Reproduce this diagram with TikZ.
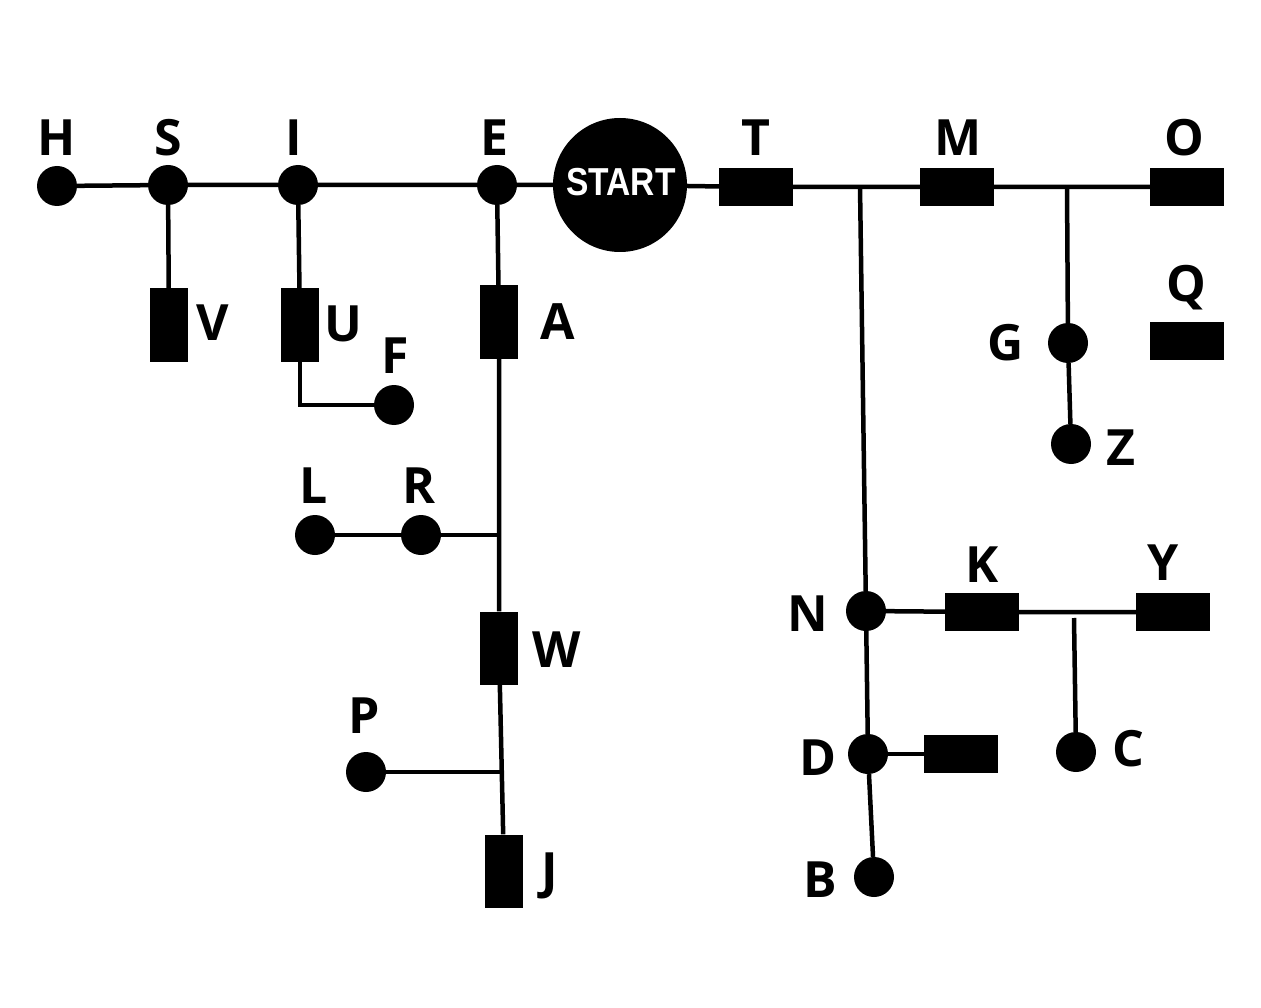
\documentclass[tikz,border=0pt]{standalone}
\usepackage{fontspec}
\setmainfont{Open Sans}
\newfontfamily\startfont{Liberation Sans}
\begin{document}
\begin{tikzpicture}[x=1pt,y=-1pt,
  dot/.style={circle,fill=black,minimum size=40pt,inner sep=0pt},
  hbox/.style={rectangle,fill=black,minimum width=74pt,minimum height=38pt,inner sep=0pt},
  vbox/.style={rectangle,fill=black,minimum width=38pt,minimum height=73pt,inner sep=0pt},
  lab/.style={font=\fontsize{50}{50}\selectfont\bfseries,inner sep=0pt},
  wire/.style={line width=4.5pt}]
\useasboundingbox[fill=white] (0,0) rectangle (1261,1008);
% nodes
\node[dot] (H) at (57,186) {};
\node[dot] (S) at (168,185) {};
\node[dot] (I) at (298,185) {};
\node[dot] (E) at (497,185) {};
\node[circle,fill=black,minimum size=134pt,inner sep=0pt] (START) at (620,185) {};
\node[text=white,inner sep=0pt] (startlab) at (621,182) {\scalebox{0.86}[1]{\startfont\bfseries\fontsize{39}{39}\selectfont START}};
\node[hbox] (T) at (756,187) {};
\node[hbox] (M) at (957,187) {};
\node[hbox] (O) at (1187,187) {};
\node[hbox] (Q) at (1187,341) {};
\node[vbox] (V) at (169,325) {};
\node[vbox] (U) at (300,325) {};
\node[vbox] (A) at (499,322) {};
\node[dot] (F) at (394,405) {};
\node[dot] (L) at (315,535) {};
\node[dot] (R) at (421,535) {};
\node[vbox] (W) at (499,648) {};
\node[dot] (P) at (366,772) {};
\node[vbox] (J) at (504,871) {};
\node[dot] (G) at (1068,343) {};
\node[dot] (Z) at (1071,444) {};
\node[dot] (N) at (866,611) {};
\node[hbox] (K) at (982,612) {};
\node[hbox] (Y) at (1173,612) {};
\node[dot] (C) at (1076,752) {};
\node[dot] (D) at (868,754) {};
\node[hbox] (Dr) at (961,754) {};
\node[dot] (B) at (874,877) {};
% junction coordinates
\coordinate (j1) at (860,186);
\coordinate (j2) at (1067,186);
\coordinate (jLR) at (499,535);
\coordinate (jP) at (501,772);
\coordinate (cTop) at (1074,618);
% connectors
\draw[wire] (H) -- (S) -- (I) -- (E) -- (START) -- (T) -- (M) -- (O);
\draw[wire] (S) -- (V);
\draw[wire] (I) -- (U);
\draw[wire] (U) |- (F);
\draw[wire] (E) -- (A) -- (W) -- (J);
\draw[wire] (L) -- (R) -- (jLR);
\draw[wire] (P) -- (jP);
\draw[wire] (j1) -- (N);
\draw[wire] (j2) -- (G) -- (Z);
\draw[wire] (N) -- (K) -- (Y);
\draw[wire] (cTop) -- (C);
\draw[wire] (N) -- (D) -- (B);
\draw[wire] (D) -- (Dr);
% labels
\node[lab] (lH) at (57,138) {H};
\node[lab] (lS) at (168,138) {S};
\node[lab] (lI) at (294,138) {I};
\node[lab] (lE) at (494,138) {E};
\node[lab] (lT) at (756,138) {T};
\node[lab] (lM) at (958,138) {M};
\node[lab] (lO) at (1184,138) {O};
\node[lab] (lQ) at (1186,288) {Q};
\node[lab] (lV) at (213,323) {V};
\node[lab] (lU) at (343,324) {U};
\node[lab] (lA) at (558,322) {A};
\node[lab] (lF) at (395,356) {F};
\node[lab] (lL) at (314,486) {L};
\node[lab] (lR) at (419,486) {R};
\node[lab] (lW) at (557,650) {W};
\node[lab] (lP) at (364,716) {P};
\node[lab] (lJ) at (550,876) {J};
\node[lab] (lG) at (1006,343) {G};
\node[lab] (lZ) at (1121,448) {Z};
\node[lab] (lN) at (808,614) {N};
\node[lab] (lK) at (982,565) {K};
\node[lab] (lY) at (1163,563) {Y};
\node[lab] (lC) at (1128,749) {C};
\node[lab] (lD) at (818,758) {D};
\node[lab] (lB) at (820,880) {B};
\end{tikzpicture}
\end{document}
